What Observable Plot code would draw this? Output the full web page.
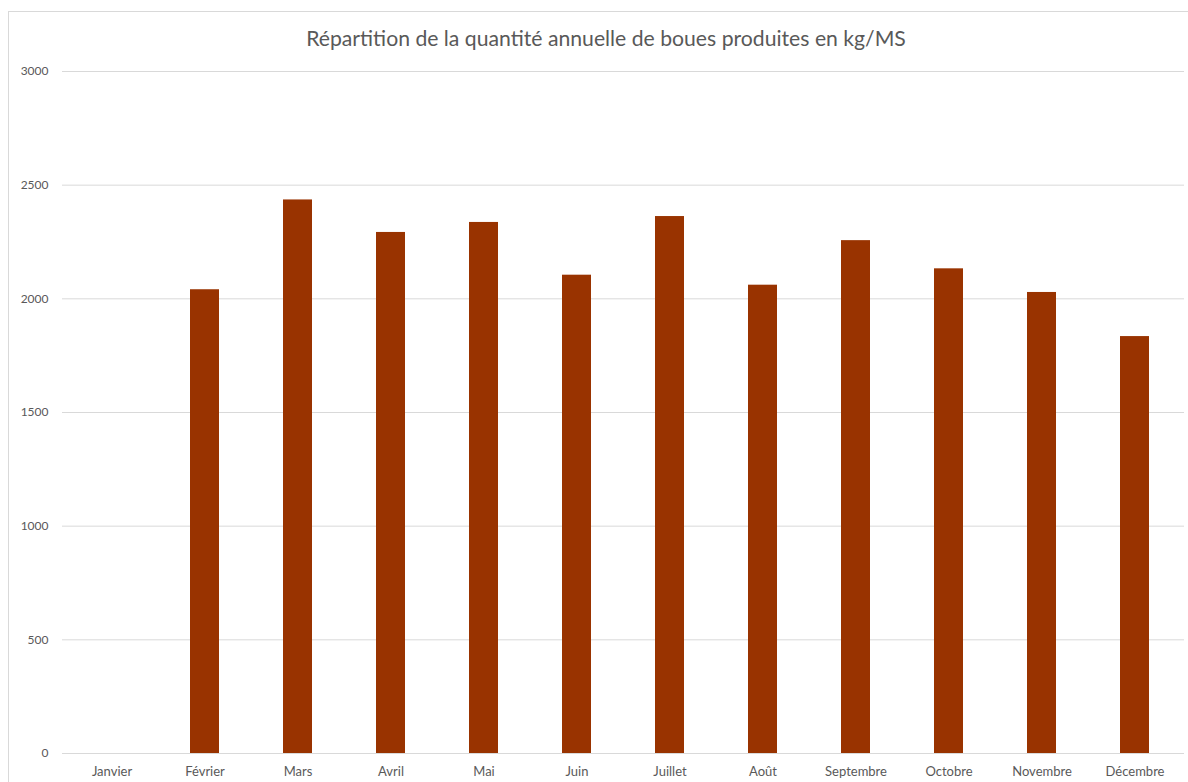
<!DOCTYPE html>
<html>
<head>
<meta charset="utf-8">
<script src="https://cdn.jsdelivr.net/npm/d3@7"></script>
<script src="https://cdn.jsdelivr.net/npm/@observablehq/plot@0.6"></script>
<style>
  html, body { margin: 0; padding: 0; background: #fff; overflow: hidden; }
  body { font-family: Lato, "Open Sans", sans-serif; }
  #title {
    height: 60px; box-sizing: border-box; width: 1188px;
    padding-top: 26px; padding-left: 24px;
    font-size: 21.2px; line-height: 25px; text-align: center;
    color: #595959; white-space: nowrap;
  }
  #frame {
    position: absolute; left: 8px; top: 11px; width: 1400px; height: 1000px;
    border: 1px solid #d9d9d9; box-sizing: border-box; pointer-events: none;
  }
</style>
</head>
<body>
<div id="title">Répartition de la quantité annuelle de boues produites en kg/MS</div>
<div id="chart"></div>
<div id="frame"></div>
<script>
const months = ["Janvier", "Février", "Mars", "Avril", "Mai", "Juin", "Juillet", "Août", "Septembre", "Octobre", "Novembre", "Décembre"];
const values = [null, 2040, 2435, 2292, 2336, 2104, 2362, 2060, 2256, 2132, 2028, 1834];
const yTicks = [0, 500, 1000, 1500, 2000, 2500, 3000];

const data = months.map((m, i) => ({ month: m, value: values[i] }));

const chart = Plot.plot({
  width: 1188,
  height: 722,
  marginTop: 11,
  marginBottom: 29,
  marginLeft: 62,
  marginRight: 4,
  style: { fontFamily: "Lato, 'Open Sans', sans-serif", fontSize: "12px", color: "#595959", background: "transparent" },
  x: { type: "band", domain: months, paddingInner: 0.685, paddingOuter: 0.3425, label: null },
  y: { domain: [0, 3000], label: null },
  marks: [
    Plot.gridY(yTicks, { stroke: "#d9d9d9", strokeOpacity: 1, strokeWidth: 1 }),
    Plot.barY(data, { x: "month", y: "value", fill: "#993300", filter: d => d.value != null }),
    Plot.axisY(yTicks, { tickSize: 0, tickPadding: 14, fontSize: 12, fill: "#595959", label: null, tickFormat: d => String(d) }),
    Plot.axisX({ tickSize: 0, tickPadding: 13, fontSize: 13, fill: "#595959", label: null, style: "letter-spacing:0.6px" })
  ]
});
document.getElementById("chart").appendChild(chart);
</script>
</body>
</html>
